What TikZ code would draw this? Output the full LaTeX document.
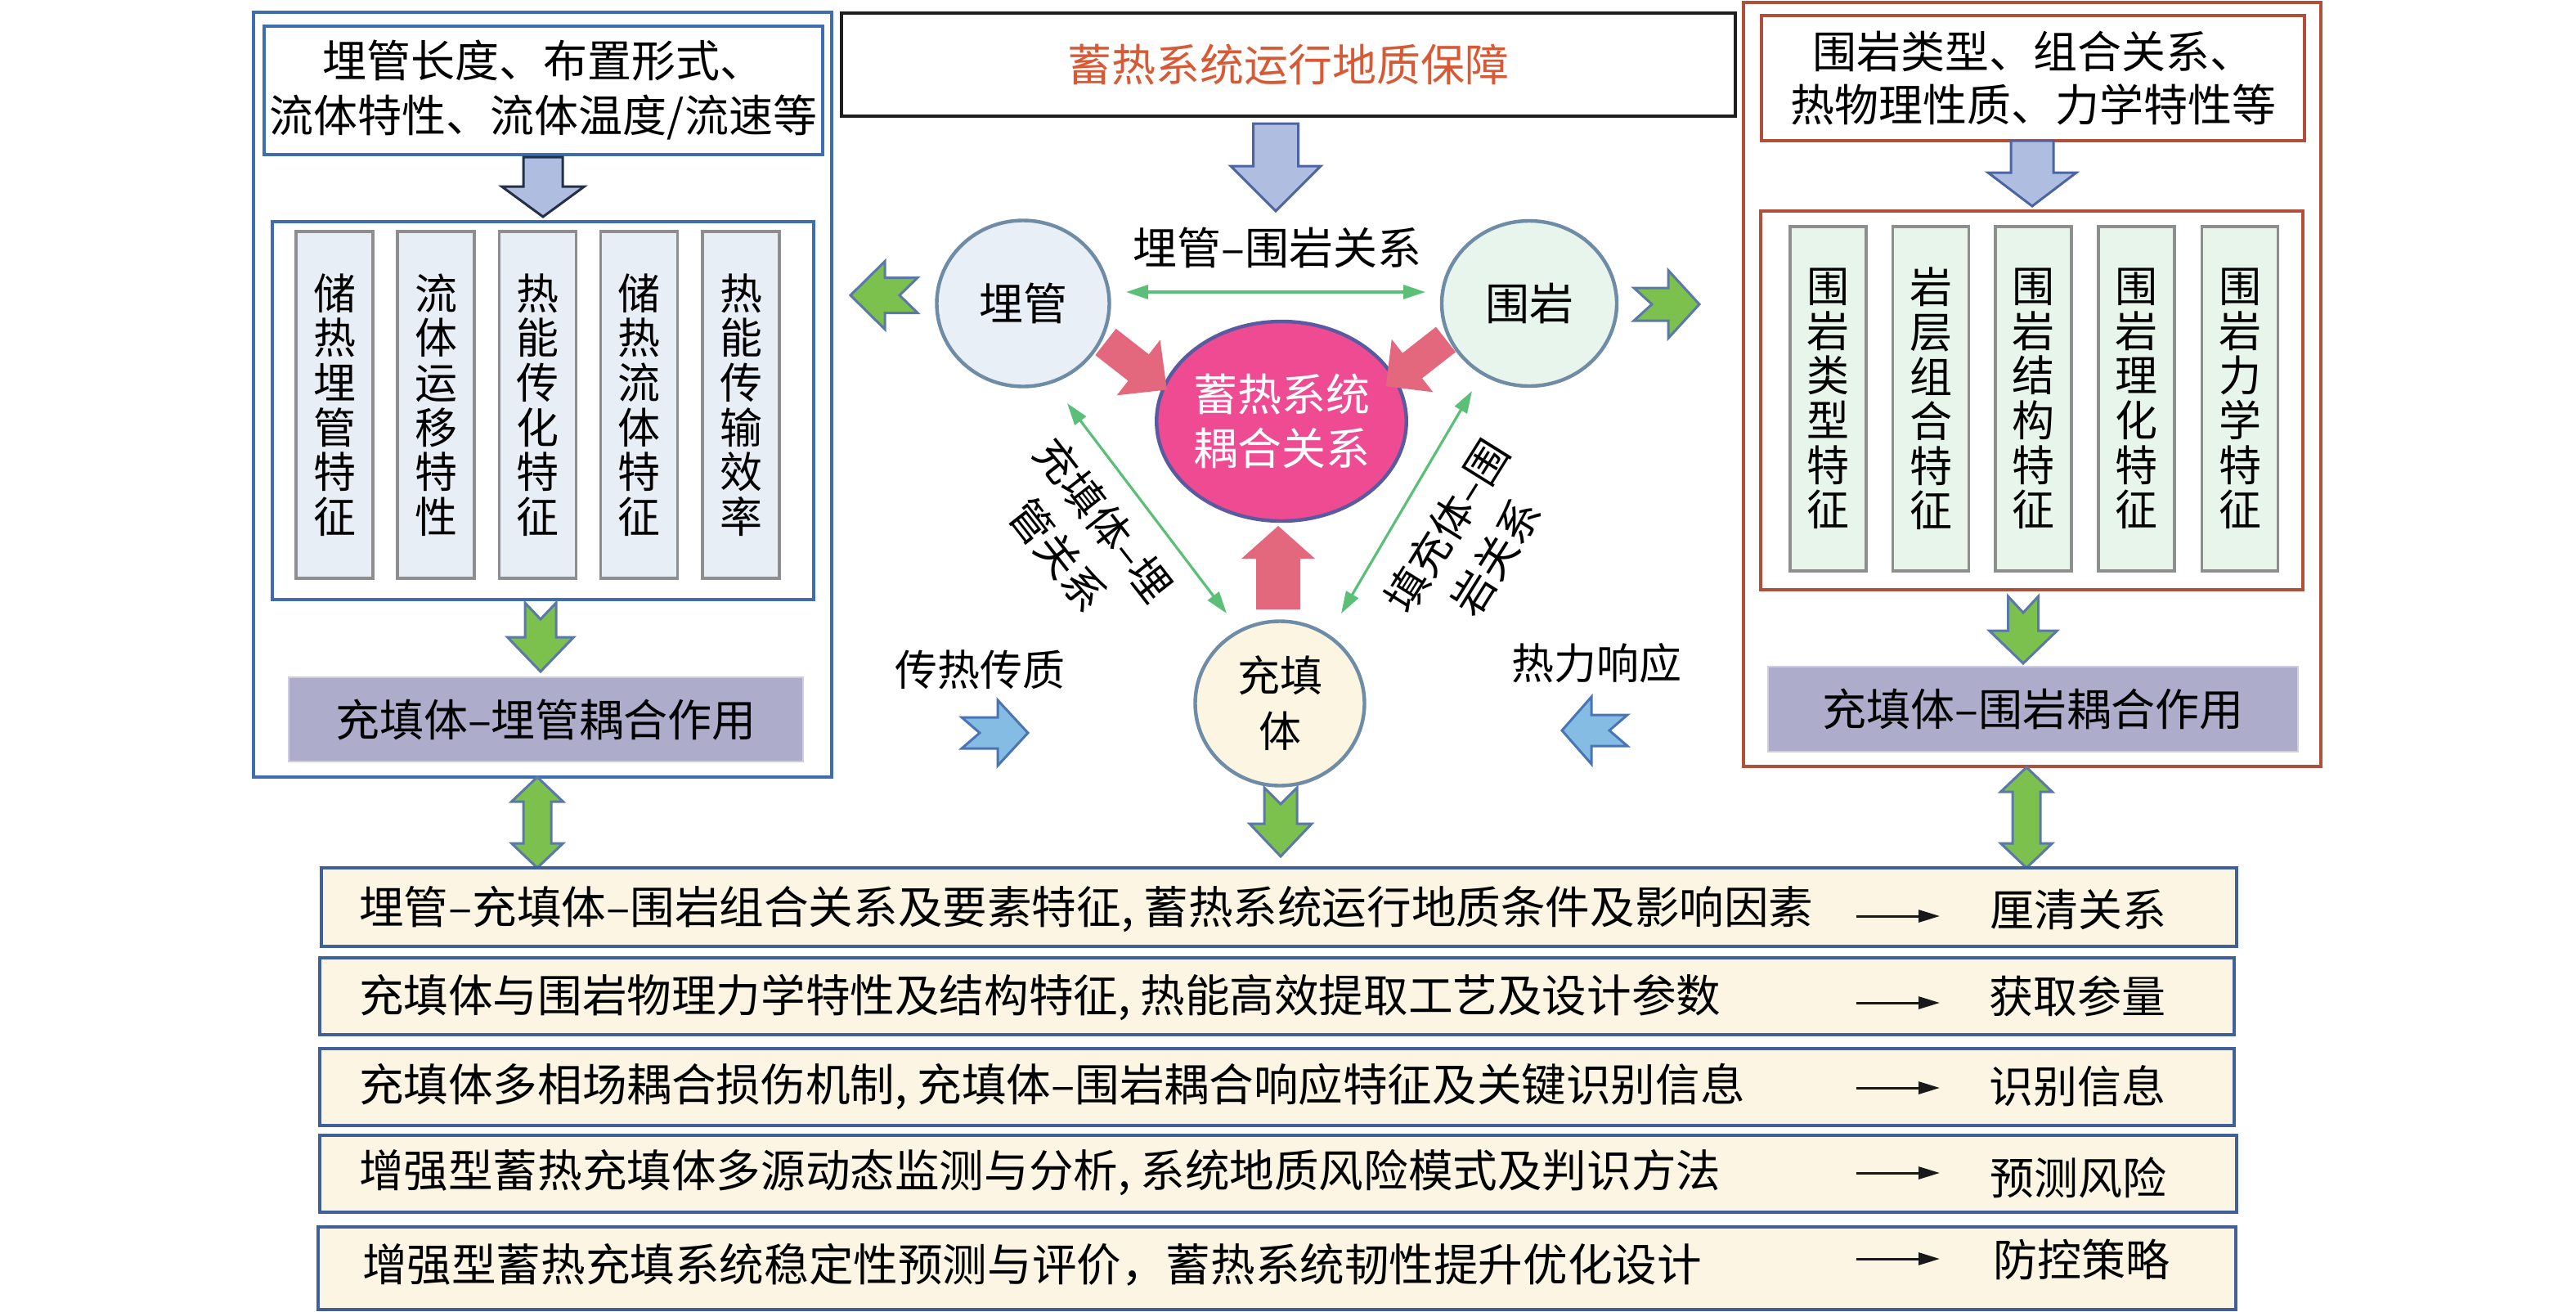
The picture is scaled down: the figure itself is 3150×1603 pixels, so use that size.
\documentclass[tikz,border=0pt]{standalone}
\usepackage{fontspec}
\setmainfont{Noto Sans CJK SC}
\usetikzlibrary{arrows.meta,shapes.geometric,fit}
\definecolor{lblue}{HTML}{3F6EB0}
\definecolor{rbrown}{HTML}{B0503A}
\definecolor{colL}{HTML}{E8EEF5}
\definecolor{colR}{HTML}{E8F5EA}
\definecolor{colline}{HTML}{8E8E8E}
\definecolor{purp}{HTML}{ADADCB}
\definecolor{rowfill}{HTML}{FCF5E3}
\definecolor{rowline}{HTML}{40609A}
\definecolor{titlec}{HTML}{D65A35}
\definecolor{barfill}{HTML}{AFBDE0}
\definecolor{barline}{HTML}{4C64A2}
\definecolor{darknavy}{HTML}{243048}
\definecolor{garfill}{HTML}{7CC04E}
\definecolor{garline}{HTML}{5A78A8}
\definecolor{parfill}{HTML}{E3687D}
\definecolor{skyfill}{HTML}{84BCE4}
\definecolor{skyline}{HTML}{4A74B4}
\definecolor{pinkc}{HTML}{EE4B93}
\definecolor{pinkline}{HTML}{5A5AA0}
\definecolor{cgm}{HTML}{E8EFF6}
\definecolor{cwy}{HTML}{E8F5EC}
\definecolor{ccx}{HTML}{FCF5E2}
\definecolor{circline}{HTML}{6F8CA6}
\definecolor{thing}{HTML}{5CBF78}
\tikzset{
  pics/barrow/.style args={#1/#2/#3/#4}{code={
    \path[pic actions] (0,{-(#4)/2}) -- ({#1-#2},{-(#4)/2}) -- ({#1-#2},{-(#3)/2}) -- (#1,0)
      -- ({#1-#2},{(#3)/2}) -- ({#1-#2},{(#4)/2}) -- (0,{(#4)/2}) -- cycle;}},
  pics/nar/.style args={#1/#2/#3/#4/#5}{code={
    \path[pic actions] (0,{-(#4)/2}) -- ({#1-#2},{-(#4)/2}) -- ({#1-#2},{-(#3)/2}) -- (#1,0)
      -- ({#1-#2},{(#3)/2}) -- ({#1-#2},{(#4)/2}) -- (0,{(#4)/2}) -- (#5,0) -- cycle;}},
  pics/dar/.style args={#1/#2/#3/#4}{code={
    \path[pic actions] (0,0) -- (#2,{-(#3)/2}) -- (#2,{-(#4)/2}) -- ({#1-#2},{-(#4)/2}) -- ({#1-#2},{-(#3)/2})
      -- (#1,0) -- ({#1-#2},{(#3)/2}) -- ({#1-#2},{(#4)/2}) -- (#2,{(#4)/2}) -- (#2,{(#3)/2}) -- cycle;}},
  base/.style={inner sep=0pt, outer sep=0pt},
  ft/.style={font=\fontsize{27}{32}\selectfont},
  pnlL/.style={base, draw=lblue, line width=2pt},
  pnlR/.style={base, draw=rbrown, line width=2pt},
  colLs/.style={base, draw=colline, line width=1.6pt, fill=colL, align=center, minimum width=47pt, minimum height=212pt, font=\fontsize{26}{27.3}\selectfont},
  colRs/.style={base, draw=colline, line width=1.6pt, fill=colR, align=center, minimum width=46.5pt, minimum height=210.5pt, font=\fontsize{26}{27.3}\selectfont},
  purpbox/.style={base, fill=purp, draw=purp!60!white, line width=1pt, ft},
  rowbox/.style={base, fill=rowfill, draw=rowline, line width=2pt},
  circ/.style={ellipse, base, draw=circline, line width=2.2pt, align=center, ft},
  thinG/.style={draw=thing, line width=1.6pt, >={Triangle[length=13.5pt,width=8.5pt]}, <->},
  rowarr/.style={draw=black!90, line width=1.5pt, -{Triangle[length=13pt,width=7.5pt]}},
  bluearr/.style={fill=barfill, draw=barline, line width=1.5pt},
  greenarr/.style={fill=garfill, draw=garline, line width=1.5pt},
  pinkarr/.style={fill=parfill},
  skyarr/.style={fill=skyfill, draw=skyline, line width=1.5pt},
  lbl/.style={base, ft},
  rowtxt/.style={base, font=\fontsize{27.3}{32}\selectfont},
}
\begin{document}
\begin{tikzpicture}[x=0.5pt,y=-0.5pt]
\useasboundingbox (0,0) rectangle (3150,1603);
\path[fill=white] (0,0) rectangle (3150,1603);

% ---------- left panel ----------
\node[fit={(310,15) (1017,950)}, pnlL] (Lout) {};
\node[pnlL, align=center, minimum width=341.5pt, minimum height=78.5pt, font=\fontsize{27}{33.5}\selectfont] (Ltop) at (664.5,110.5) {埋管长度、布置形式、\\流体特性、流体温度/流速等};
\pic[fill=barfill, draw=darknavy, line width=1.5pt, rotate=-90] at (664,192) {barrow={73/37/101/48}};
\node[fit={(333,271) (995,733)}, pnlL] (Lin) {};
\node[colLs] (L1) at (409,495) {储\\热\\埋\\管\\特\\征};
\node[colLs] (L2) at (533,495) {流\\体\\运\\移\\特\\性};
\node[colLs] (L3) at (657.5,495) {热\\能\\传\\化\\特\\征};
\node[colLs] (L4) at (781.5,495) {储\\热\\流\\体\\特\\征};
\node[colLs] (L5) at (906,495) {热\\能\\传\\输\\效\\率};
\pic[greenarr, rotate=-90] at (661,737) {nar={84/42/81/38/20}};
\node[purpbox, minimum width=314.5pt, minimum height=51.5pt] (Lco) at (667.5,879.5) {充填体–埋管耦合作用};
\pic[greenarr, rotate=-90] at (657,950) {dar={111/30/63/34}};

% ---------- right panel ----------
\node[fit={(2132,3) (2838,937)}, pnlR] (Rout) {};
\node[pnlR, align=center, minimum width=332pt, minimum height=76.5pt, font=\fontsize{27}{32.5}\selectfont] (Rtop) at (2486,95.5) {围岩类型、组合关系、\\热物理性质、力学特性等};
\pic[bluearr, rotate=-90] at (2485,172) {barrow={80/41/108/52}};
\node[fit={(2153,258) (2816,721)}, pnlR] (Rin) {};
\node[colRs] (R1) at (2235.5,487.5) {围\\岩\\类\\型\\特\\征};
\node[colRs] (R2) at (2361,487.5) {岩\\层\\组\\合\\特\\征};
\node[colRs] (R3) at (2486.5,487.5) {围\\岩\\结\\构\\特\\征};
\node[colRs] (R4) at (2612.5,487.5) {围\\岩\\理\\化\\特\\征};
\node[colRs] (R5) at (2739,487.5) {围\\岩\\力\\学\\特\\征};
\pic[greenarr, rotate=-90] at (2474,729) {nar={82/40/83/37/20}};
\node[purpbox, minimum width=324pt, minimum height=52pt] (Rco) at (2486,867) {充填体–围岩耦合作用};
\pic[greenarr, rotate=-90] at (2478,938) {dar={123/30/63/34}};

% ---------- centre ----------
\node[base, draw=black!88, line width=2pt, ft, text=titlec, minimum width=546.5pt, minimum height=63pt] (title) at (1575.5,79) {蓄热系统运行地质保障};
\pic[bluearr, rotate=-90] at (1560,151) {barrow={107/55/110/55}};

\node[circ, fill=cgm, minimum width=105.5pt, minimum height=101.5pt] (gm) at (1251,371) {埋管};
\node[circ, fill=cwy, minimum width=107pt, minimum height=101pt] (wy) at (1870,371) {围岩};
\node[circ, fill=pinkc, draw=pinkline, text=white, minimum width=137pt, minimum height=122pt, font=\fontsize{27}{33}\selectfont] (core) at (1567,515) {蓄热系统\\耦合关系};
\node[circ, fill=ccx, minimum width=103.5pt, minimum height=100.5pt, font=\fontsize{26}{34}\selectfont] (cx) at (1565,860) {充填\\体};

\node[lbl] (gmwy) at (1562,303) {埋管–围岩关系};
\coordinate (h1) at (1377,357);
\coordinate (h2) at (1743,357);
\draw[thinG] (h1) -- (h2);

\pic[greenarr, rotate=180] at (1122,361) {nar={82/42/83/43/22}};
\pic[greenarr] at (1998,372) {nar={80/38/83/40/22}};

\pic[pinkarr, rotate=-38] at (1352,418) {barrow={95/44/86/41}};
\pic[pinkarr, rotate=-142] at (1768,415) {barrow={93/41/82/39}};
\pic[pinkarr, rotate=90] at (1563,745) {barrow={102/40/90/54}};

\coordinate (d1) at (1305,493);
\coordinate (d2) at (1500,750);
\coordinate (e1) at (1800,478);
\coordinate (e2) at (1640,750);
\draw[thinG] (d1) -- (d2);
\draw[thinG] (e1) -- (e2);

\node[base, rotate=-52, align=center, font=\fontsize{26}{35.5}\selectfont] (lab1) at (1322,657) {充填体–埋\\管关系};
\node[base, rotate=58, align=center, font=\fontsize{26}{35.5}\selectfont] (lab2) at (1799,662) {填充体–围\\岩关系};

\node[lbl, font=\fontsize{26}{32}\selectfont] (crcz) at (1198,819) {传热传质};
\pic[skyarr] at (1176,896) {nar={81/37/80/38/22}};
\node[lbl, font=\fontsize{26}{32}\selectfont] (rlxy) at (1952,811) {热力响应};
\pic[skyarr, rotate=180] at (1990,893) {nar={80/36/82/38/22}};

\pic[greenarr, rotate=-90] at (1566,963) {nar={84/40/76/40/20}};

% ---------- bottom rows ----------
\node[fit={(393,1061) (2735,1157)}, rowbox] (row1) {};
\node[fit={(391,1171) (2732,1265)}, rowbox] (row2) {};
\node[fit={(391,1282) (2732,1376)}, rowbox] (row3) {};
\node[fit={(391,1388) (2735,1482)}, rowbox] (row4) {};
\node[fit={(389,1500) (2734,1601)}, rowbox] (row5) {};

\node[rowtxt, anchor=west] (t1) at (439,1112) {埋管–充填体–围岩组合关系及要素特征, 蓄热系统运行地质条件及影响因素};
\node[rowtxt, anchor=west] (t2) at (439,1219) {充填体与围岩物理力学特性及结构特征, 热能高效提取工艺及设计参数};
\node[rowtxt, anchor=west] (t3) at (439,1328) {充填体多相场耦合损伤机制, 充填体–围岩耦合响应特征及关键识别信息};
\node[rowtxt, anchor=west] (t4) at (439,1434) {增强型蓄热充填体多源动态监测与分析, 系统地质风险模式及判识方法};
\node[rowtxt, anchor=west] (t5) at (443,1546) {增强型蓄热充填系统稳定性预测与评价，蓄热系统韧性提升优化设计};

\node[lbl] (g1) at (2541,1112) {厘清关系};
\node[lbl] (g2) at (2540,1218) {获取参量};
\node[lbl] (g3) at (2540,1328) {识别信息};
\node[lbl] (g4) at (2541,1440) {预测风险};
\node[lbl] (g5) at (2545,1540) {防控策略};

\foreach \i/\y in {1/1120,2/1226,3/1330,4/1434,5/1539}{
  \coordinate (a\i) at (2270,\y);
  \coordinate (b\i) at (2372,\y);
  \draw[rowarr] (a\i) -- (b\i);
}
\end{tikzpicture}
\end{document}
